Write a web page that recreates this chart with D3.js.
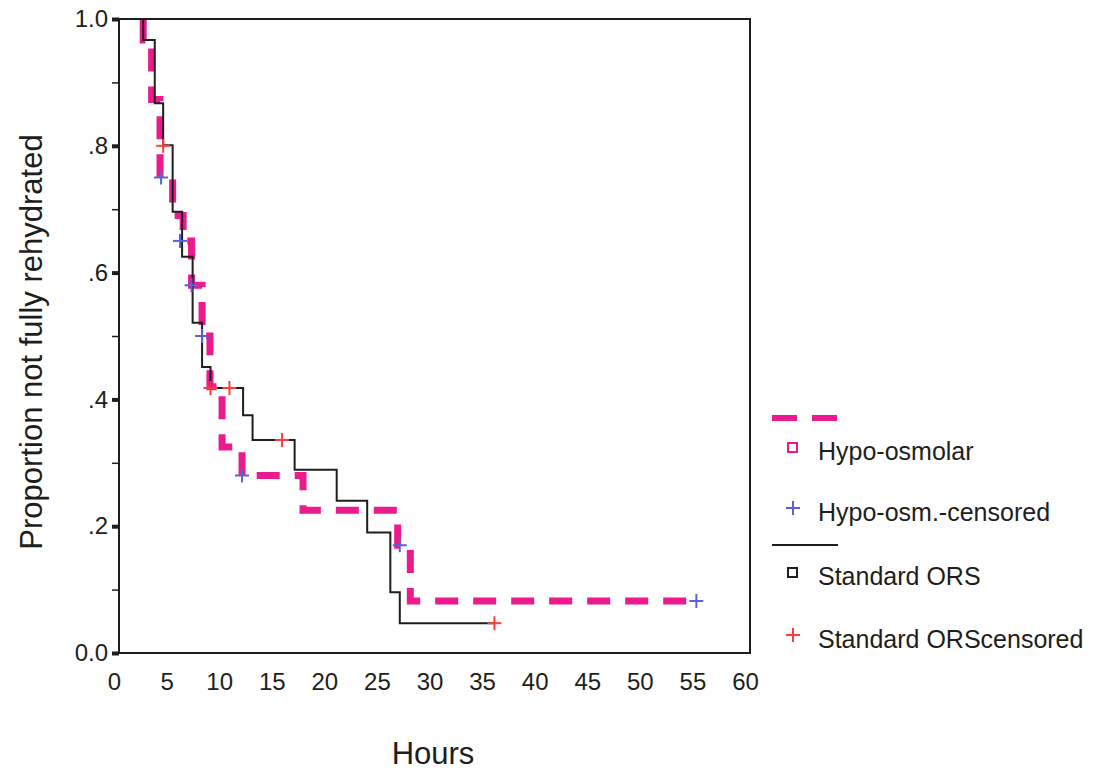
<!DOCTYPE html>
<html><head><meta charset="utf-8">
<script src="https://cdn.jsdelivr.net/npm/d3@7"></script>
<style>
html,body{margin:0;padding:0;background:#fff;}
svg{display:block;font-family:"Liberation Sans",Arial,sans-serif;}
</style></head>
<body>
<svg id="chart" width="1095" height="772"></svg>
<script>
// ---- data ----
const hypoTimes = [2.3, 3.1, 3.9, 5.1, 6.1, 6.9, 7.9, 8.65, 9.8, 11.7, 17.5, 26.5, 27.7, 55];
const hypoSurv  = [0.967, 0.873, 0.75, 0.69, 0.65, 0.58, 0.50, 0.42, 0.325, 0.28, 0.225, 0.17, 0.082, 0.082];
const stdTimes  = [0, 2.3, 3.4, 4.2, 5.1, 6.0, 7.0, 7.9, 8.7, 11.8, 12.7, 16.7, 20.7, 23.6, 25.8, 26.7, 35.7];
const stdSurv   = [1.0, 0.967, 0.867, 0.801, 0.696, 0.625, 0.521, 0.451, 0.418, 0.375, 0.336, 0.289, 0.240, 0.19, 0.096, 0.047, 0.047];
const hypoCensT = [4.0, 5.8, 6.9, 7.9, 11.7, 26.7, 54.9];
const hypoCensS = [0.75, 0.65, 0.58, 0.50, 0.28, 0.17, 0.082];
const stdCensT  = [4.2, 8.7, 10.5, 15.5, 35.7];
const stdCensS  = [0.80, 0.418, 0.418, 0.336, 0.047];
const xTicks = [0,5,10,15,20,25,30,35,40,45,50,55,60];
const yMajor = [0, 0.2, 0.4, 0.6, 0.8, 1.0];
const yMinor = [0.1, 0.3, 0.5, 0.7, 0.9];
const yTickLabels = ["0.0", ".2", ".4", ".6", ".8", "1.0"];
const legendLabels = ["Hypo-osmolar", "Hypo-osm.-censored", "Standard ORS", "Standard ORScensored"];
const xTitle = "Hours";
const yTitle = "Proportion not fully rehydrated";

// ---- layout ----
const L = 119, R = 750, T = 19, B = 653;
const PINK = "#ec1a8c", BLUE = "#5b62d6", RED = "#ff3b3b", INK = "#1e1e1a";
const svg = d3.select("#chart");
const x = d3.scaleLinear().domain([0, 60]).range([L, R]);
const y = d3.scaleLinear().domain([0, 1]).range([B, T]);

svg.append("rect").attr("x", L).attr("y", T).attr("width", R - L).attr("height", B - T).attr("fill", "#fff");

const line = d3.line().x(d => x(d[0])).y(d => y(d[1])).curve(d3.curveStepAfter);

// hypo-osmolar (pink dashed)
const hypoPts = [[hypoTimes[0], 1.0]].concat(hypoTimes.map((t, i) => [t, hypoSurv[i]]));
svg.append("path").attr("d", line(hypoPts)).attr("fill", "none")
  .attr("stroke", PINK).attr("stroke-width", 7).attr("stroke-dasharray", "23,15");

// standard ORS (black)
const stdPts = stdTimes.map((t, i) => [t, stdSurv[i]]);
svg.append("path").attr("d", line(stdPts)).attr("fill", "none")
  .attr("stroke", INK).attr("stroke-width", 2);

// censored marks
function cross(g, cx, cy, s, color) {
  g.append("line").attr("x1", cx - s).attr("x2", cx + s).attr("y1", cy).attr("y2", cy)
    .attr("stroke", color).attr("stroke-width", 2);
  g.append("line").attr("x1", cx).attr("x2", cx).attr("y1", cy - s).attr("y2", cy + s)
    .attr("stroke", color).attr("stroke-width", 2);
}
const cg = svg.append("g");
hypoCensT.forEach((t, i) => cross(cg, x(t), y(hypoCensS[i]), 7, BLUE));
stdCensT.forEach((t, i) => cross(cg, x(t), y(stdCensS[i]), 7, RED));

// frame
svg.append("rect").attr("x", L).attr("y", T).attr("width", R - L).attr("height", B - T)
  .attr("fill", "none").attr("stroke", INK).attr("stroke-width", 2);

// y axis ticks
const yAxisMajor = d3.axisLeft(y).tickValues(yMajor).tickSize(7)
  .tickFormat((d, i) => yTickLabels[i]).tickPadding(4);
const ga = svg.append("g").attr("transform", `translate(${L},0)`).call(yAxisMajor);
ga.select(".domain").remove();
ga.selectAll(".tick line").attr("stroke", INK).attr("stroke-width", 4);
ga.selectAll(".tick text").attr("font-size", 24).attr("fill", INK)
  .attr("font-family", "Liberation Sans, Arial, sans-serif");
const gm = svg.append("g").attr("transform", `translate(${L},0)`)
  .call(d3.axisLeft(y).tickValues(yMinor).tickSize(7).tickFormat(""));
gm.select(".domain").remove();
gm.selectAll(".tick line").attr("stroke", INK).attr("stroke-width", 1.5);

// x axis labels
const gx = svg.append("g").attr("transform", `translate(0,${B})`)
  .call(d3.axisBottom(x).tickValues(xTicks).tickSize(0).tickPadding(20).tickFormat(d3.format("d")));
gx.select(".domain").remove();
gx.selectAll(".tick text").attr("font-size", 24).attr("fill", INK).attr("dx", -5)
  .attr("font-family", "Liberation Sans, Arial, sans-serif");

// axis titles
svg.append("text").attr("x", 433).attr("y", 764).attr("text-anchor", "middle")
  .attr("font-size", 31).attr("fill", INK).text(xTitle);
svg.append("text").attr("transform", "translate(42,342) rotate(-90)").attr("text-anchor", "middle")
  .attr("font-size", 31).attr("fill", INK).text(yTitle);

// legend
const lg = svg.append("g");
lg.append("line").attr("x1", 772).attr("x2", 837).attr("y1", 418).attr("y2", 418)
  .attr("stroke", PINK).attr("stroke-width", 6).attr("stroke-dasharray", "25,15");
lg.append("rect").attr("x", 788).attr("y", 443).attr("width", 9).attr("height", 9)
  .attr("fill", "none").attr("stroke", PINK).attr("stroke-width", 2);
cross(lg, 793, 508, 7, BLUE);
lg.append("line").attr("x1", 772).attr("x2", 838).attr("y1", 545).attr("y2", 545)
  .attr("stroke", INK).attr("stroke-width", 2);
lg.append("rect").attr("x", 788).attr("y", 568).attr("width", 9).attr("height", 9)
  .attr("fill", "none").attr("stroke", INK).attr("stroke-width", 2);
cross(lg, 793, 635, 7, RED);
const legY = [460, 521, 585, 648];
legendLabels.forEach((t, i) => {
  lg.append("text").attr("x", 818).attr("y", legY[i]).attr("font-size", 25).attr("fill", INK).text(t);
});
</script>
</body></html>
